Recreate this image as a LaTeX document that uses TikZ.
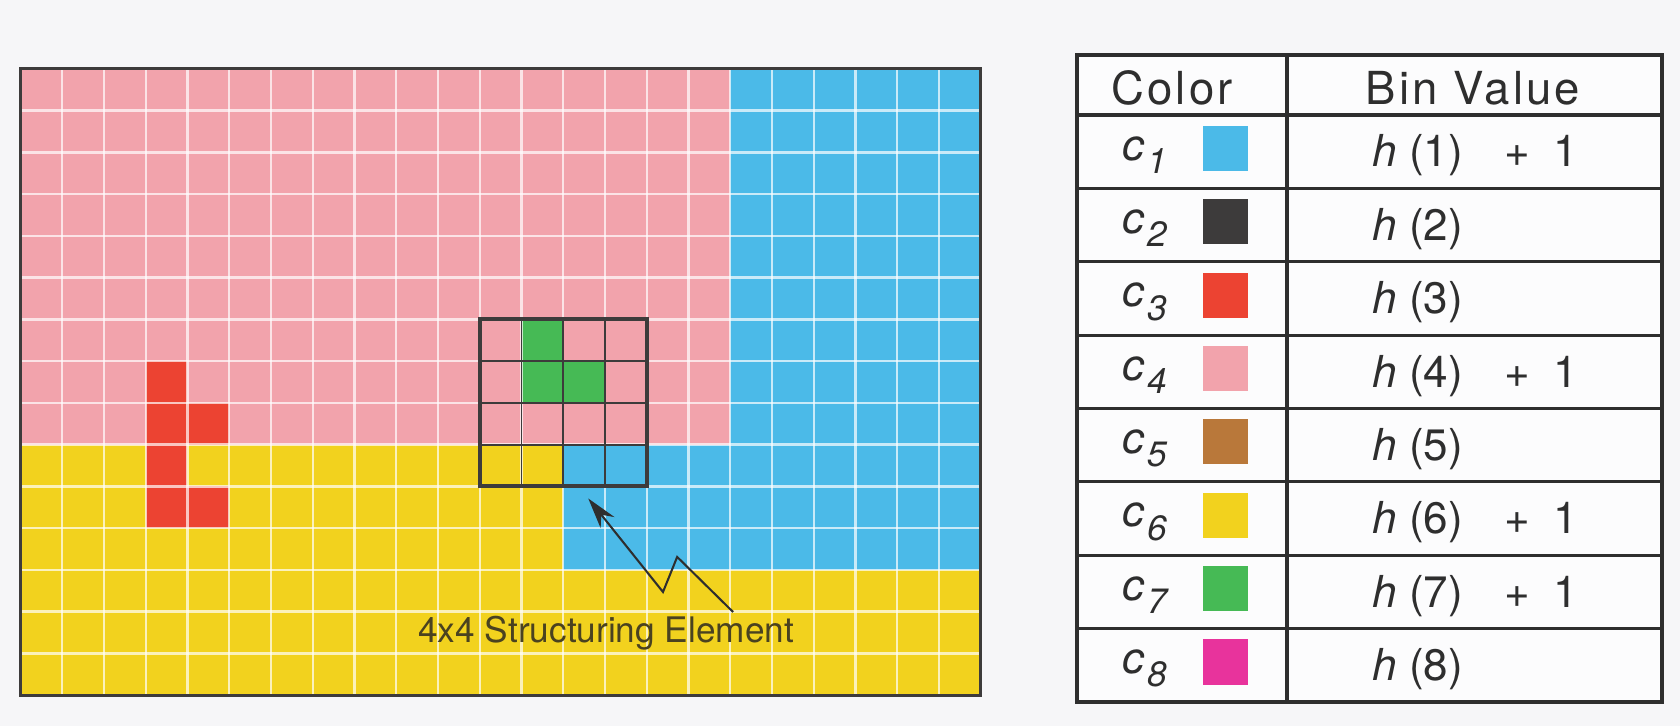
\documentclass[tikz,border=0pt]{standalone}
\usepackage{fontspec}
\setmainfont{TeX Gyre Heros}
\newfontfamily\hdrfont[LetterSpace=7]{TeX Gyre Heros}
\usepackage{xcolor}
\usetikzlibrary{arrows.meta,calc,positioning}

\definecolor{cpink}{HTML}{F2A3AC}
\definecolor{cblue}{HTML}{4BBAE8}
\definecolor{cyell}{HTML}{F2D21E}
\definecolor{cred}{HTML}{EC4332}
\definecolor{cgreen}{HTML}{46BA55}
\definecolor{cbrown}{HTML}{B9783A}
\definecolor{cmag}{HTML}{E8339C}
\definecolor{cdark}{HTML}{3D3B3B}
\definecolor{ink}{HTML}{2E2E2E}
\definecolor{olive}{HTML}{4A4220}
\definecolor{paper}{HTML}{F6F6F8}

% color name with a big lowered subscript
\newcommand{\cname}[1]{\textit{c}\kern2pt\raisebox{-9pt}{\fontsize{24}{24}\selectfont\textit{#1}}}
\newcommand{\plusone}{\hspace{28pt}+\hspace{16pt}1}

\begin{document}
\begin{tikzpicture}[>=Stealth,x=1cm,y=1cm]
\tikzset{gridln/.style={white,opacity=0.7,line width=1.6pt},
 seln/.style={cdark,line width=1.2pt},
 rowln/.style={ink,line width=1.9pt},
 hdr/.style={font=\hdrfont\fontsize{31}{36}\selectfont,text=ink,anchor=base},
 cnm/.style={font=\fontsize{30}{36}\selectfont,text=ink,anchor=base west,inner sep=0pt},
 bin/.style={font=\fontsize{30}{36}\selectfont,text=ink,anchor=base west,inner sep=0pt},
 swatch/.style={minimum size=1.08cm,inner sep=0pt}}
\fill[paper] (0,0) rectangle (40.24,17.39);
\useasboundingbox (0,0) rectangle (40.24,17.39);

% the image, one unit per pixel cell
\begin{scope}[shift={(0.49,0.74)}]
\fill[cpink] (0,6) rectangle (17,15);
\fill[cblue] (17,3) rectangle (23,15);
\fill[cblue] (13,3) rectangle (17,6);
\fill[cyell] (0,0) rectangle (23,3);
\fill[cyell] (0,3) rectangle (13,6);
\foreach \c/\r in {3/7,3/6,4/6,3/5,3/4,4/4} \fill[cred] (\c,\r) rectangle ++(1,1);
\foreach \c/\r in {12/8,12/7,13/7} \fill[cgreen] (\c,\r) rectangle ++(1,1);
\foreach \i in {1,...,22} \draw[gridln] (\i,0) -- (\i,15);
\foreach \j in {1,...,14} \draw[gridln] (0,\j) -- (23,\j);
% 4x4 window
\foreach \i in {12,13,14} \draw[seln] (\i,5) -- (\i,9);
\foreach \j in {6,7,8} \draw[seln] (11,\j) -- (15,\j);
\node[draw=cdark,line width=2.8pt,minimum size=4cm,inner sep=0pt] (se) at (13,7) {};
\draw[cdark,line width=2.2pt] (0,0) rectangle (23,15);
\node[font=\fontsize{24}{28}\selectfont,text=olive,anchor=base] (selabel) at (14.03,1.27) {4x4 Structuring Element};
\coordinate (sefoot) at (17.07,1.99);
\coordinate (setip) at ($(se.south)+(0.6,-0.24)$);
\draw[ink,line width=1.4pt,-{Stealth[length=21pt,width=12pt]}] (sefoot) -- (15.73,3.31) -- (15.39,2.47) -- (setip);
\end{scope}

% histogram table
\begin{scope}[shift={(25.80,0.575)}]
\fill[white!70!paper] (0,0) rectangle (14.01,15.497);
\foreach \k in {1,...,7} \draw[rowln] (0,\k*1.7575) -- (14.01,\k*1.7575);
\draw[ink,line width=2.6pt] (0,14.06) -- (14.01,14.06);
\draw[ink,line width=2.4pt] (5.03,0) -- (5.03,15.497);
\draw[ink,line width=2.8pt] (0,0) rectangle (14.01,15.497);
\node[hdr] (hcol) at (2.27,14.30) {Color};
\node[hdr] (hbin) at (9.48,14.30) {Bin Value};
\foreach \k/\col/\pl in {1/cblue/\plusone,2/cdark/,3/cred/,4/cpink/\plusone,5/cbrown/,6/cyell/\plusone,7/cgreen/\plusone,8/cmag/}{
  \pgfmathsetmacro{\yt}{14.06-(\k-1)*1.7575}
  \node[cnm] (c\k) at (1.08,\yt-1.08) {\cname{\k}};
  \node[swatch,fill=\col] (sw\k) at (3.55,\yt-0.80) {};
  \node[bin] (h\k) at (7.07,\yt-1.245) {\textit{h} (\k)\pl};
}
\end{scope}
\end{tikzpicture}
\end{document}
